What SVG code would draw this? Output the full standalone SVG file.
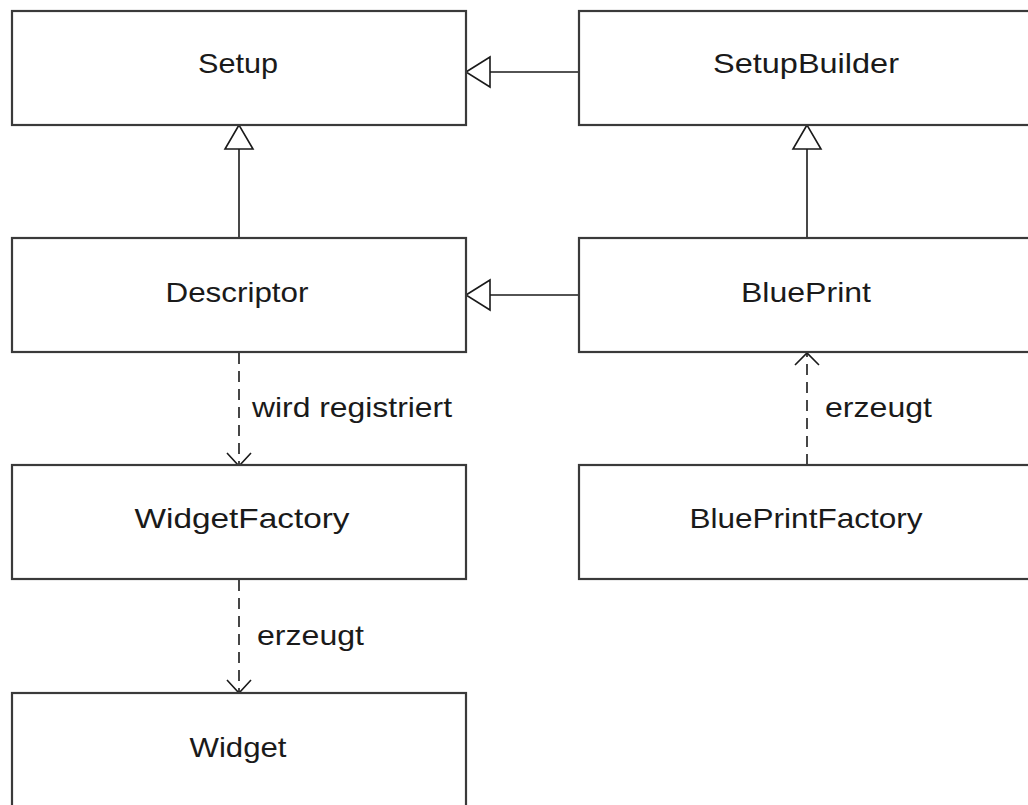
<svg xmlns="http://www.w3.org/2000/svg" width="1028" height="805" viewBox="0 0 1028 805">
  <style>
    .box { fill: #ffffff; stroke: #3a3a3a; stroke-width: 2.2; }
    .lbl { font-family: "Liberation Sans", Arial, sans-serif; font-size: 28px; fill: #1a1a1a; }
    .mid { text-anchor: middle; }
    .edge { fill: none; stroke: #1a1a1a; stroke-width: 1.6; }
    .dash { stroke-dasharray: 11 7; }
    .tri { fill: #ffffff; stroke: #1a1a1a; stroke-width: 1.6; stroke-linejoin: miter; }
    .head { fill: none; stroke: #1a1a1a; stroke-width: 1.6; }
  </style>
  <rect width="1028" height="805" fill="#ffffff"/>

  <g id="connectors">
    <!-- SetupBuilder generalizes to Setup -->
    <g id="edge-setupbuilder-setup">
      <line class="edge" x1="490" y1="72" x2="579" y2="72"/>
      <polygon class="tri" points="466,72 490,57 490,87"/>
    </g>
    <!-- Descriptor generalizes to Setup -->
    <g id="edge-descriptor-setup">
      <line class="edge" x1="239" y1="149" x2="239" y2="238"/>
      <polygon class="tri" points="239,125 225,149 253,149"/>
    </g>
    <!-- BluePrint generalizes to SetupBuilder -->
    <g id="edge-blueprint-setupbuilder">
      <line class="edge" x1="807" y1="149" x2="807" y2="238"/>
      <polygon class="tri" points="807,125 793,149 821,149"/>
    </g>
    <!-- BluePrint generalizes to Descriptor -->
    <g id="edge-blueprint-descriptor">
      <line class="edge" x1="490" y1="295" x2="579" y2="295"/>
      <polygon class="tri" points="466,295 490,280 490,310"/>
    </g>
    <!-- Descriptor registered at WidgetFactory -->
    <g id="edge-descriptor-widgetfactory">
      <line class="edge dash" x1="239" y1="353" x2="239" y2="465"/>
      <polyline class="head" points="227,453 239,466 251,453"/>
      <text class="lbl" x="252" y="417" textLength="200" lengthAdjust="spacingAndGlyphs">wird registriert</text>
    </g>
    <!-- BluePrintFactory creates BluePrint -->
    <g id="edge-blueprintfactory-blueprint">
      <line class="edge dash" x1="807" y1="465" x2="807" y2="353"/>
      <polyline class="head" points="795,365 807,353 819,365"/>
      <text class="lbl" x="825" y="417" textLength="107" lengthAdjust="spacingAndGlyphs">erzeugt</text>
    </g>
    <!-- WidgetFactory creates Widget -->
    <g id="edge-widgetfactory-widget">
      <line class="edge dash" x1="239" y1="580" x2="239" y2="692"/>
      <polyline class="head" points="227,680 239,693 251,680"/>
      <text class="lbl" x="257" y="645" textLength="107" lengthAdjust="spacingAndGlyphs">erzeugt</text>
    </g>
  </g>

  <g id="node-setup">
    <rect class="box" x="12" y="11" width="454" height="114"/>
    <text class="lbl mid" x="238" y="73" textLength="80" lengthAdjust="spacingAndGlyphs">Setup</text>
  </g>
  <g id="node-setupbuilder">
    <rect class="box" x="579" y="11" width="456" height="114"/>
    <text class="lbl mid" x="806" y="73" textLength="186" lengthAdjust="spacingAndGlyphs">SetupBuilder</text>
  </g>
  <g id="node-descriptor">
    <rect class="box" x="12" y="238" width="454" height="114"/>
    <text class="lbl mid" x="237" y="302" textLength="143" lengthAdjust="spacingAndGlyphs">Descriptor</text>
  </g>
  <g id="node-blueprint">
    <rect class="box" x="579" y="238" width="456" height="114"/>
    <text class="lbl mid" x="806" y="302" textLength="130" lengthAdjust="spacingAndGlyphs">BluePrint</text>
  </g>
  <g id="node-widgetfactory">
    <rect class="box" x="12" y="465" width="454" height="114"/>
    <text class="lbl mid" x="242" y="528" textLength="215" lengthAdjust="spacingAndGlyphs">WidgetFactory</text>
  </g>
  <g id="node-blueprintfactory">
    <rect class="box" x="579" y="465" width="456" height="114"/>
    <text class="lbl mid" x="806" y="528" textLength="233" lengthAdjust="spacingAndGlyphs">BluePrintFactory</text>
  </g>
  <g id="node-widget">
    <rect class="box" x="12" y="693" width="454" height="120"/>
    <text class="lbl mid" x="238" y="757" textLength="97" lengthAdjust="spacingAndGlyphs">Widget</text>
  </g>
</svg>
